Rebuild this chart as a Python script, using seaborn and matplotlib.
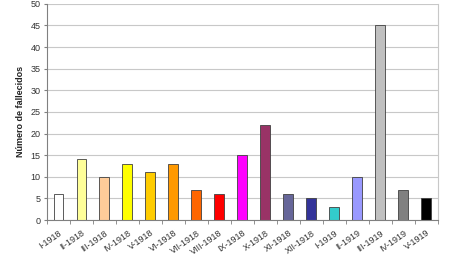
import matplotlib
matplotlib.use("Agg")
import matplotlib.pyplot as plt
import seaborn as sns
import pandas as pd

months = ["I-1918", "II-1918", "III-1918", "IV-1918", "V-1918", "VI-1918", "VII-1918",
          "VIII-1918", "IX-1918", "X-1918", "XI-1918", "XII-1918", "I-1919", "II-1919",
          "III-1919", "IV-1919", "V-1919"]
deaths = [6, 14, 10, 13, 11, 13, 7, 6, 15, 22, 6, 5, 3, 10, 45, 7, 5]
colors = ["#FFFFFF", "#FFFF99", "#FFCC99", "#FFFF00", "#FFCC00", "#FF9900", "#FF6600",
          "#FF0000", "#FF00FF", "#993366", "#666699", "#333399", "#33CCCC", "#9999FF",
          "#C0C0C0", "#808080", "#000000"]
yticks = list(range(0, 51, 5))

sns.set_style("white")
plt.rcParams['font.family'] = ['Liberation Sans', 'DejaVu Sans']

df = pd.DataFrame({"mes": months, "n": deaths})
fig = plt.figure(figsize=(4.5, 2.69), dpi=100)
ax = fig.add_axes([0.1044, 0.182, 0.868, 0.804])
sns.barplot(data=df, x="mes", y="n", hue="mes", palette=colors, legend=False,
            saturation=1, width=0.43, edgecolor="#404040", linewidth=0.6, ax=ax)
ax.set_ylim(0, 50)
ax.set_yticks(yticks)
ax.set_xlim(-0.5, len(months) - 0.5)
ax.yaxis.grid(True, color="#c8c8c8", linewidth=0.8)
ax.set_axisbelow(True)
ax.spines["top"].set_visible(False)
ax.spines["right"].set_color("#c8c8c8")
ax.spines["left"].set_color("#808080")
ax.spines["bottom"].set_color("#808080")
ax.set_xlabel("")
ax.set_ylabel("Número de fallecidos", fontsize=6.5, fontweight="bold", labelpad=4, color="#222222")
ax.tick_params(axis="y", labelsize=6.5, length=2.5, color="#808080", pad=2, left=True,
               labelcolor="#333333")
ax.tick_params(axis="x", labelsize=6.5, length=0, pad=6, labelcolor="#333333")
ax.set_xticks(range(len(months)))
ax.set_xticklabels(months, rotation=35, ha="right", rotation_mode="anchor")
ax.set_xticks([i + 0.5 for i in range(-1, len(months))], minor=True)
ax.tick_params(axis="x", which="minor", length=3, color="#808080", bottom=True)
fig.savefig("out.png", dpi=100)
